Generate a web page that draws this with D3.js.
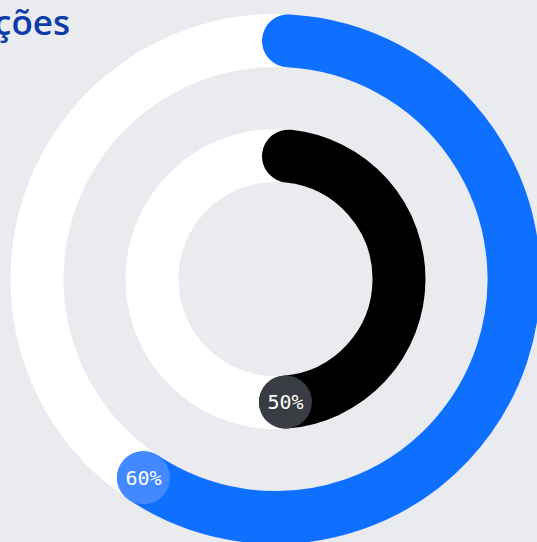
<!DOCTYPE html>
<html>
<head>
<meta charset="utf-8">
<script src="https://cdn.jsdelivr.net/npm/d3@7"></script>
<style>
  html, body { margin: 0; padding: 0; background: #e9ebee; overflow: hidden; }
  svg { display: block; }
</style>
</head>
<body>
<svg id="chart" width="537" height="542"></svg>
<script>
// Ring data: outer ring first, then inner ring
const series = ["Meta", "Realizado"];
const values = [0.60, 0.50];
const ringColors = ["#0f6fff", "#000000"];
const badgeColors = ["#4289ff", "#393c42"];
const title = "Ações";

const width = 537, height = 542;
const cx = 275.5, cy = 279;
const thickness = 53;
const outerEdge = 265;   // outer radius of the outer track
const gap = 62;          // space between the two tracks

const svg = d3.select("#chart");
svg.append("rect").attr("width", width).attr("height", height).attr("fill", "#e9ebee");

const g = svg.append("g").attr("transform", `translate(${cx},${cy})`);

// radius of each ring's centre line
const ringIndex = d3.range(values.length);
const rMid = d3.scaleOrdinal()
  .domain(ringIndex)
  .range(ringIndex.map(i => outerEdge - thickness / 2 - i * (thickness + gap)));

const angle = d3.scaleLinear().domain([0, 1]).range([0, 2 * Math.PI]);

// white tracks
const track = d3.arc()
  .innerRadius(i => rMid(i) - thickness / 2)
  .outerRadius(i => rMid(i) + thickness / 2)
  .startAngle(0)
  .endAngle(2 * Math.PI);

g.selectAll("path.track")
  .data(ringIndex)
  .join("path")
  .attr("class", "track")
  .attr("d", track)
  .attr("fill", "#ffffff");

// progress arcs: stroked centre line with round caps
const startPad = 13, endPad = 10; // px along the arc
function arcPath(i) {
  const r = rMid(i);
  const a0 = startPad / r;
  const a1 = angle(values[i]) - endPad / r;
  const p = d3.path();
  p.arc(0, 0, r, a0 - Math.PI / 2, a1 - Math.PI / 2, false);
  return p.toString();
}
function endPoint(i) {
  const r = rMid(i);
  const a = angle(values[i]) - endPad / r;
  return [r * Math.sin(a), -r * Math.cos(a)];
}

g.selectAll("path.progress")
  .data(ringIndex)
  .join("path")
  .attr("class", "progress")
  .attr("d", arcPath)
  .attr("fill", "none")
  .attr("stroke", i => ringColors[i])
  .attr("stroke-width", thickness)
  .attr("stroke-linecap", "round");

// value badges at the end of each arc
const badges = g.selectAll("g.badge")
  .data(ringIndex)
  .join("g")
  .attr("class", "badge")
  .attr("transform", i => `translate(${endPoint(i)})`);

badges.append("circle")
  .attr("r", thickness / 2)
  .attr("fill", i => badgeColors[i]);

badges.append("text")
  .attr("text-anchor", "middle")
  .attr("dy", "0.36em")
  .attr("fill", "#ffffff")
  .style("font-family", "'DejaVu Sans Mono', monospace")
  .style("font-size", "20px")
  .text(i => d3.format(".0%")(values[i]));

// title, running off the left edge
svg.append("text")
  .attr("x", 70)
  .attr("y", 35)
  .attr("text-anchor", "end")
  .attr("fill", "#0c3caa")
  .style("font-family", "'Open Sans', 'Noto Sans', sans-serif")
  .style("font-weight", 600)
  .style("font-size", "35px")
  .text(title);
</script>
</body>
</html>
